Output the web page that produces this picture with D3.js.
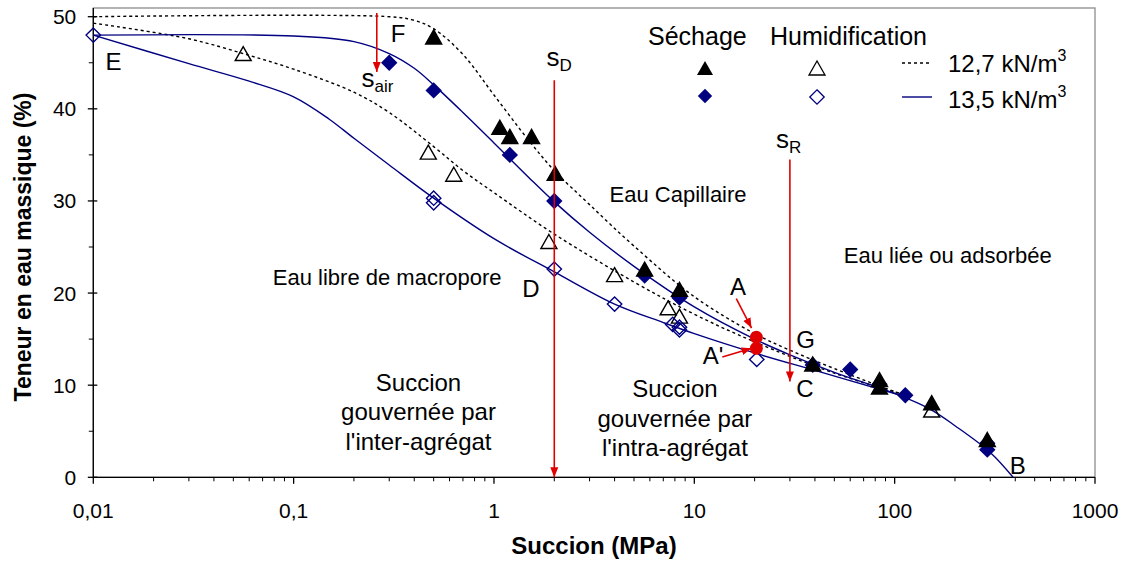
<!DOCTYPE html>
<html>
<head>
<meta charset="utf-8">
<script src="https://cdn.jsdelivr.net/npm/d3@7"></script>
<style>
  html, body { margin: 0; padding: 0; background: #fff; }
  svg { display: block; font-family: "Liberation Sans", Arial, sans-serif; }
</style>
</head>
<body>
<svg id="chart" width="1127" height="561"></svg>
<script>
// ---- Data: succion (MPa) / teneur en eau massique (%) ----
// Points mesurés
const sechage127 = [[0.5,47.8],[1.07,38],[1.2,37],[1.54,37],[2.02,33],[5.65,22.6],[8.43,20.4],[39,12.3],[84,10.6],[84,9.8],[153,8.1],[290,4.1]];
const sechage135 = [[0.3,45],[0.5,42],[1.2,35],[2.0,30],[5.65,21.9],[8.43,19.5],[39,12.2],[60,11.7],[84,10.1],[113,8.9],[290,3.7],[290,3.0]];
const humid127   = [[0.056,46],[0.47,35.3],[0.63,32.9],[1.88,25.6],[4.0,22],[7.4,18.4],[8.43,17.5],[153,7.3]];
const humid135   = [[0.01,48],[0.5,30.3],[0.5,29.8],[2.0,22.6],[4.0,18.8],[7.8,16.6],[8.43,16.3],[8.43,16.0],[20.5,12.8]];
const pointsA    = [[20.4,15.2],[20.4,14.0]];

// Courbes de rétention
const courbeSechage127 = [[0.01,50],[0.3,50],[0.4,49.6],[0.5,48.7],[0.7,45.9],[1,41.5],[1.5,36.5],[2,33.3],[3,29.6],[5,25.1],[10,19.6],[20,15.6],[30,13.8],[50,11.8],[100,9.3],[110,9.0]];
const courbeHumid127   = [[0.01,49.3],[0.03,47.6],[0.06,45.8],[0.1,44.3],[0.2,41.8],[0.3,39.6],[0.5,35.9],[0.7,33.3],[1,30.9],[2,26.4],[5,21.2],[10,17.7],[20,14.7],[50,11.3],[110,9.0]];
const courbeSechage135 = [[0.01,48],[0.1,47.9],[0.2,47.3],[0.3,46.0],[0.4,44.4],[0.5,42.6],[0.7,39.6],[1,36.3],[1.5,32.5],[2,29.9],[3,26.6],[5,22.9],[10,18.5],[20,15.0],[30,13.3],[50,11.4],[100,9.1],[150,7.4],[200,5.6],[300,2.7],[390,0]];
const courbeHumid135   = [[0.01,48],[0.03,44.9],[0.06,43.0],[0.1,41.3],[0.15,38.9],[0.2,36.8],[0.3,33.9],[0.5,30.3],[1,25.9],[2,22.3],[4,18.8],[7,16.8],[10,15.6],[20,13.5],[40,11.6],[100,9.1],[115,8.7]];

// Axes
const xDomain = [0.01, 1000];
const xTickValues = [0.01, 0.1, 1, 10, 100, 1000];
const xTickLabels = ["0,01", "0,1", "1", "10", "100", "1000"];
const yDomain = [0, 50];
const yTickValues = [0, 10, 20, 30, 40, 50];

// Succions caractéristiques (MPa) et bornes des flèches (%)
const sAir = { s: 0.26, from: 50.4, to: 44.0 };
const sD   = { s: 2.0,  from: 43.1, to: 0 };
const sR   = { s: 30,   from: 34.5, to: 10.4 };

// ---- Drawing ----
const svg = d3.select("#chart");
const L = 93.3, R = 1095, T = 16.7, B = 477.3, frameTop = 8;

const x = d3.scaleLog().domain(xDomain).range([L, R]);
const y = d3.scaleLinear().domain(yDomain).range([B, T]);

// plot frame
svg.append("rect").attr("x", L).attr("y", frameTop).attr("width", R - L).attr("height", B - frameTop)
  .attr("fill", "none").attr("stroke", "#8c8c8c").attr("stroke-width", 1.3);

// x axis
const xMinor = [];
for (let d = -2; d < 3; d++) for (let k = 2; k <= 9; k++) xMinor.push(k * Math.pow(10, d));
const gx = svg.append("g");
gx.append("line").attr("x1", L).attr("x2", R).attr("y1", B).attr("y2", B).attr("stroke", "#000").attr("stroke-width", 1.3);
gx.selectAll(".xmin").data(xMinor).join("line")
  .attr("x1", d => x(d)).attr("x2", d => x(d)).attr("y1", B).attr("y2", B + 4)
  .attr("stroke", "#000").attr("stroke-width", 1);
gx.selectAll(".xmaj").data(xTickValues).join("line")
  .attr("x1", d => x(d)).attr("x2", d => x(d)).attr("y1", B).attr("y2", B + 6.5)
  .attr("stroke", "#000").attr("stroke-width", 1.3);
gx.selectAll("text").data(xTickValues).join("text")
  .attr("x", d => x(d)).attr("y", B + 41).attr("text-anchor", "middle")
  .attr("font-size", 21).attr("fill", "#000").text((d, i) => xTickLabels[i]);

// y axis
const gy = svg.append("g");
gy.append("line").attr("x1", L).attr("x2", L).attr("y1", B).attr("y2", frameTop).attr("stroke", "#000").attr("stroke-width", 1.3);
gy.selectAll(".ymin").data(d3.range(5, 50, 10)).join("line")
  .attr("x1", L - 4.5).attr("x2", L).attr("y1", d => y(d)).attr("y2", d => y(d))
  .attr("stroke", "#000").attr("stroke-width", 1);
gy.selectAll(".ymaj").data(yTickValues).join("line")
  .attr("x1", L - 5.5).attr("x2", L + 4).attr("y1", d => y(d)).attr("y2", d => y(d))
  .attr("stroke", "#000").attr("stroke-width", 1.3);
gy.selectAll("text").data(yTickValues).join("text")
  .attr("x", L - 17).attr("y", d => y(d) + 7.5).attr("text-anchor", "end")
  .attr("font-size", 21).attr("fill", "#000").text(d => d);

// axis titles
svg.append("text").attr("x", 594).attr("y", 554).attr("text-anchor", "middle")
  .attr("font-size", 24).attr("font-weight", "bold").text("Succion (MPa)");
svg.append("text").attr("transform", "translate(31,247) rotate(-90)").attr("text-anchor", "middle")
  .attr("font-size", 23).attr("font-weight", "bold").text("Teneur en eau massique (%)");

// curves
const line = d3.line().x(d => x(d[0])).y(d => y(d[1])).curve(d3.curveCatmullRom.alpha(0.5));
const curves = [
  { data: courbeSechage127, color: "#000", dash: "3,3" },
  { data: courbeHumid127,   color: "#000", dash: "3,3" },
  { data: courbeSechage135, color: "#000080", dash: null },
  { data: courbeHumid135,   color: "#000080", dash: null }
];
svg.append("g").selectAll("path").data(curves).join("path")
  .attr("d", d => line(d.data)).attr("fill", "none")
  .attr("stroke", d => d.color).attr("stroke-width", 1.4)
  .attr("stroke-dasharray", d => d.dash);

// marker shapes
const triPath = "M0,-7L8,7L-8,7Z";
const diaPath = "M0,-7.2L7.2,0L0,7.2L-7.2,0Z";
function markers(data, path, fill, stroke) {
  svg.append("g").selectAll("path").data(data).join("path")
    .attr("transform", d => `translate(${x(d[0])},${y(d[1])})`)
    .attr("d", path).attr("fill", fill).attr("stroke", stroke).attr("stroke-width", 1.4);
}
markers(humid127, triPath, "none", "#000");
markers(humid135, diaPath, "none", "#000080");
markers(sechage135, diaPath, "#000080", "#000080");
markers(sechage127, triPath, "#000", "#000");

// points A / A'
svg.append("g").selectAll("circle").data(pointsA).join("circle")
  .attr("cx", d => x(d[0])).attr("cy", d => y(d[1])).attr("r", 6.5).attr("fill", "#e00000");

// arrows
const red = "#e00000";
const defs = svg.append("defs");
defs.append("marker").attr("id", "head").attr("viewBox", "0 0 10 10").attr("refX", 10).attr("refY", 5)
  .attr("markerWidth", 10).attr("markerHeight", 10).attr("markerUnits", "userSpaceOnUse").attr("orient", "auto")
  .append("path").attr("d", "M0,1L10,5L0,9Z").attr("fill", red);
function arrow(x1, y1, x2, y2, w) {
  svg.append("line").attr("x1", x1).attr("y1", y1).attr("x2", x2).attr("y2", y2)
    .attr("stroke", red).attr("stroke-width", w).attr("marker-end", "url(#head)");
}
[sAir, sD, sR].forEach(a => arrow(x(a.s), y(a.from), x(a.s), y(a.to), 1.6));
arrow(x(16.2), y(19.4), x(19.3), y(16.2), 1.6);
arrow(x(13.8), y(13.05), x(19.3), y(14.0), 1.6);

// annotations
function txt(s, w, str, size, anchor) {
  return svg.append("text").attr("x", x(s)).attr("y", y(w)).attr("font-size", size)
    .attr("text-anchor", anchor || "middle").attr("fill", "#000").text(str);
}
txt(0.0126, 44.2, "E", 24);
txt(0.332, 47.3, "F", 24);
txt(1.53, 19.6, "D", 24);
txt(16.5, 19.8, "A", 24);
txt(12.4, 12.35, "A'", 24);
txt(35.9, 14.0, "G", 24);
txt(35.6, 8.74, "C", 24);
txt(412, 0.41, "B", 24);

function sub(s, w, main, subtext) {
  const t = svg.append("text").attr("x", x(s)).attr("y", y(w)).attr("font-size", 26);
  t.append("tspan").text(main);
  t.append("tspan").attr("font-size", 17).attr("dy", 5).text(subtext);
}
sub(0.218, 42.4, "s", "air");
sub(1.83, 44.6, "s", "D");
sub(25.6, 35.7, "s", "R");

txt(8.3, 29.9, "Eau Capillaire", 22);
txt(0.293, 20.9, "Eau libre de macropore", 22);
txt(184, 23.3, "Eau liée ou adsorbée", 22);

function block(s, w, lines) {
  const t = svg.append("text").attr("x", x(s)).attr("y", y(w)).attr("font-size", 24).attr("text-anchor", "middle");
  lines.forEach((l, i) => t.append("tspan").attr("x", x(s)).attr("dy", i ? 29.5 : 0).text(l));
}
block(0.42, 9.4, ["Succion", "gouvernée par", "l'inter-agrégat"]);
block(8.0, 8.7, ["Succion", "gouvernée par", "l'intra-agrégat"]);

// legend
const lg = svg.append("g");
lg.append("text").attr("x", 648).attr("y", 45).attr("font-size", 25).text("Séchage");
lg.append("text").attr("x", 770).attr("y", 45).attr("font-size", 25).text("Humidification");
lg.append("path").attr("transform", "translate(705,68)").attr("d", triPath).attr("fill", "#000");
lg.append("path").attr("transform", "translate(817,68)").attr("d", triPath).attr("fill", "none").attr("stroke", "#000").attr("stroke-width", 1.3);
lg.append("path").attr("transform", "translate(705,96)").attr("d", diaPath).attr("fill", "#000080");
lg.append("path").attr("transform", "translate(817,97)").attr("d", diaPath).attr("fill", "none").attr("stroke", "#000080").attr("stroke-width", 1.3);
lg.append("line").attr("x1", 902).attr("x2", 931).attr("y1", 63).attr("y2", 63).attr("stroke", "#000").attr("stroke-width", 1.4).attr("stroke-dasharray", "3,3");
lg.append("line").attr("x1", 902).attr("x2", 932).attr("y1", 97).attr("y2", 97).attr("stroke", "#000080").attr("stroke-width", 1.4);
[["12,7 kN/m", 72], ["13,5 kN/m", 108]].forEach(([s, yy]) => {
  const t = lg.append("text").attr("x", 948).attr("y", yy).attr("font-size", 24);
  t.append("tspan").text(s);
  t.append("tspan").attr("font-size", 16).attr("dy", -11).text("3");
});
</script>
</body>
</html>
